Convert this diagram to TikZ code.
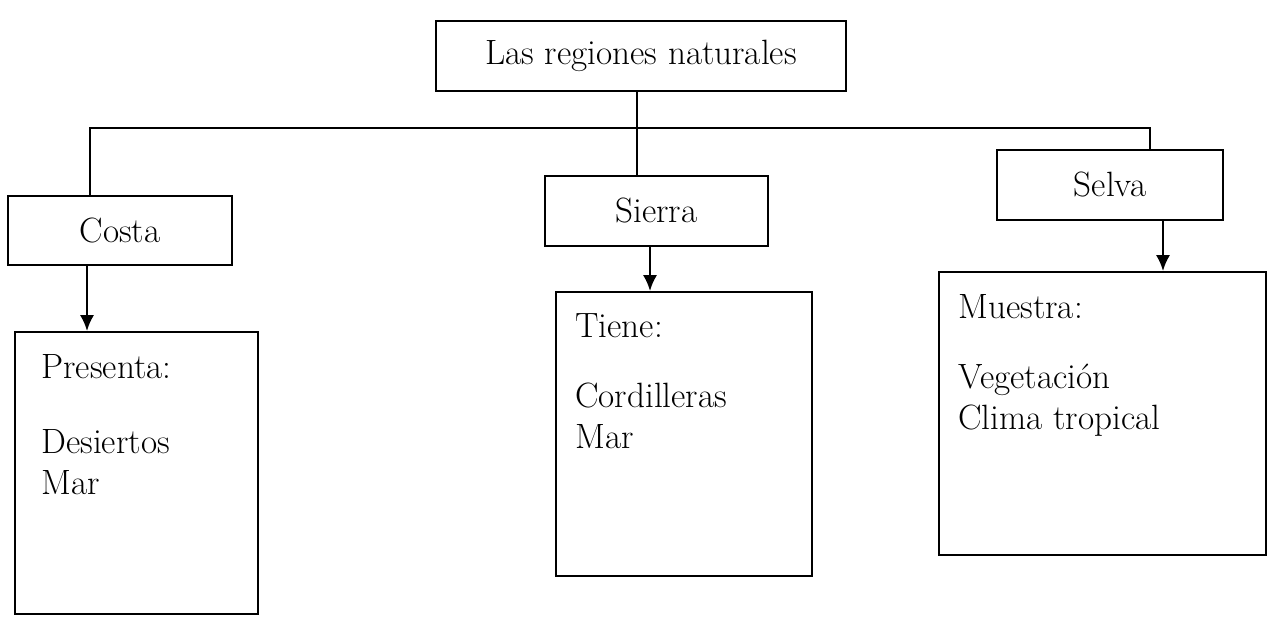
\documentclass[tikz,border=0pt]{standalone}
\usetikzlibrary{arrows.meta}
\tikzset{
  region/.style={draw, line width=1.2pt, minimum height=1.39cm, inner sep=0pt},
  panel/.style={draw, line width=1.2pt, inner sep=0pt},
  listtext/.style={align=left, anchor=north west, inner sep=0pt},
  link/.style={line width=1.2pt},
  every node/.style={font=\fontsize{20}{23}\selectfont}
}
\begin{document}
\begin{tikzpicture}[x=0.02cm,y=-0.02cm]
  \useasboundingbox (0,0) rectangle (1274,617);
  % headings
  \node[region, minimum width=8.2cm] (title) at (641,56) {Las regiones naturales};
  \node[region, minimum width=4.48cm] (costa) at (120,230.5) {Costa};
  \node[region, minimum width=4.46cm] (sierra) at (656.5,211) {Sierra};
  \node[region, minimum width=4.52cm] (selva) at (1110,185) {Selva};
  % panels
  \node[panel, minimum width=4.86cm, minimum height=5.64cm] (costabox) at (136.5,473) {};
  \node[panel, minimum width=5.12cm, minimum height=5.68cm] (sierrabox) at (684,434) {};
  \node[panel, minimum width=6.54cm, minimum height=5.66cm] (selvabox) at (1102.5,413.5) {};
  \node[listtext] (costatext) at (41,354) {Presenta:\\[0.7cm]Desiertos\\Mar};
  \node[listtext] (sierratext) at (575,313) {Tiene:\\[0.6cm]Cordilleras\\Mar};
  \node[listtext] (selvatext) at (958,294) {Muestra:\\[0.6cm]Vegetación\\Clima tropical};
  % connectors
  \coordinate (bus) at (637,128);
  \draw[link] (title.south -| bus) -- (sierra.north -| bus);
  \draw[link] ([xshift=-0.6cm]costa.north) |- (bus) -| ([xshift=0.8cm]selva.north);
  \draw[link,-{Latex[length=9pt,width=8pt]}] ([xshift=-0.66cm]costa.south) -- ([xshift=-0.66cm]costa.south |- costabox.north);
  \draw[link,-{Latex[length=9pt,width=8pt]}] ([xshift=-0.13cm]sierra.south) -- ([xshift=-0.13cm]sierra.south |- sierrabox.north);
  \draw[link,-{Latex[length=9pt,width=8pt]}] ([xshift=1.06cm]selva.south) -- ([xshift=1.06cm]selva.south |- selvabox.north);
\end{tikzpicture}
\end{document}
